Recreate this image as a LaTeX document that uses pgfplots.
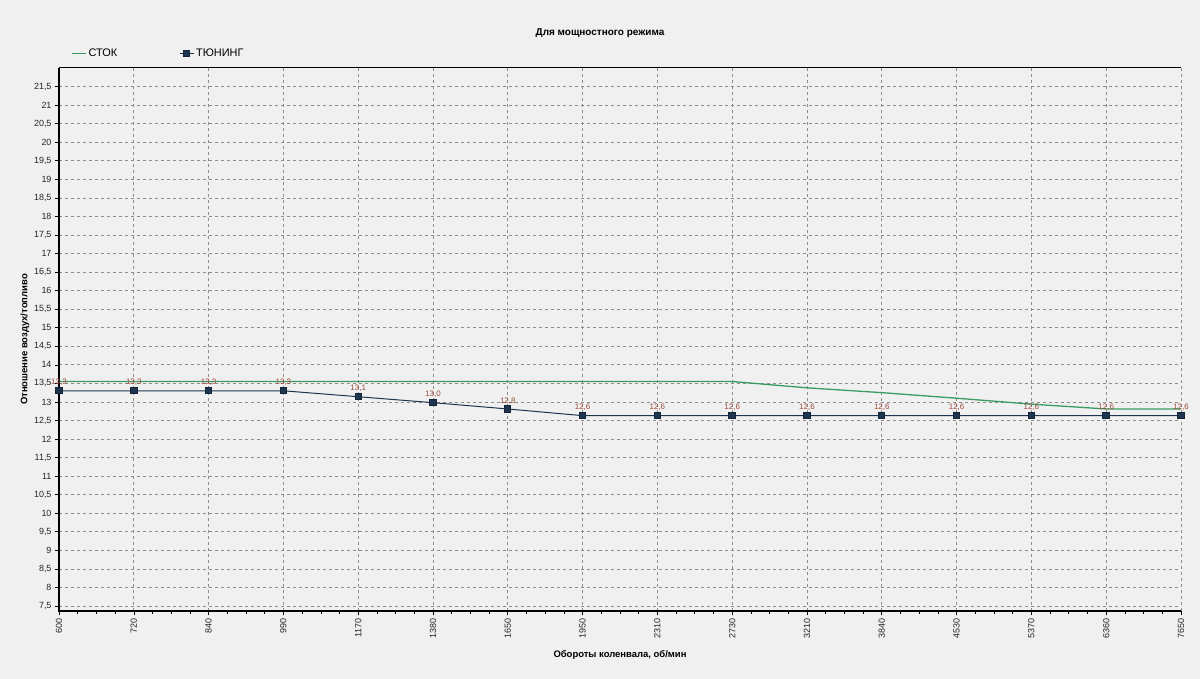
\documentclass[border=0pt]{standalone}
\usepackage{fontspec}
\setmainfont{Liberation Sans}
\usepackage{pgfplots}
\pgfplotsset{compat=1.18}
\definecolor{bg}{HTML}{F0F0F0}
\definecolor{stock}{HTML}{3A9A64}
\definecolor{tune}{HTML}{1E3550}
\definecolor{lbl}{HTML}{9A4A3A}
\definecolor{gridc}{HTML}{8C8C8C}
\begin{document}
\begin{tikzpicture}
\useasboundingbox[fill=bg] (0,0) rectangle (1200bp,679bp);
\begin{axis}[
  at={(59bp,68bp)}, anchor=south west,
  scale only axis, width=1122bp, height=543bp,
  xmin=0, xmax=15, ymin=7.365, ymax=22.0,
  xtick={0,...,15},
  xticklabels={600,720,840,990,1170,1380,1650,1950,2310,2730,3210,3840,4530,5370,6360,7650},
  minor x tick num=3,
  ytick={7.5,8,...,21.5},
  /pgf/number format/use comma,
  /pgf/number format/assume math mode=true,
  tick pos=left, tick align=outside,
  major tick length=4bp, minor tick length=3bp,
  tick style={black, line width=0.6bp},
  axis line style={draw=none},
  xmajorgrids, ymajorgrids,
  major grid style={gridc, dash pattern=on 3bp off 3bp, line width=0.7bp},
  tick label style={font=\fontsize{9}{10}\selectfont, text=black!85},
  xticklabel style={rotate=90, anchor=east},
  every axis y label/.style={at={(axis description cs:0,0.5)}, xshift=-34bp, rotate=90, anchor=center},
  every axis x label/.style={at={(axis description cs:0.5,0)}, anchor=center, yshift=-44bp},
  ylabel={\bfseries\fontsize{9.5}{11}\selectfont Отношение воздух/топливо},
  xlabel={\bfseries\fontsize{9.5}{11}\selectfont Обороты коленвала, об/мин},
  legend columns=2,
  legend style={at={(axis description cs:0,1)}, anchor=south west, xshift=12bp, yshift=8bp,
    draw=none, fill=none, font=\fontsize{11}{12}\selectfont, inner sep=0pt,
    nodes={inner sep=2bp},
    /tikz/every even column/.append style={column sep=60bp}},
  legend image code/.code={\draw[mark repeat=2,mark phase=2,#1] plot coordinates {(0bp,0bp) (7bp,0bp) (14bp,0bp)};},
  clip=false,
]
\addplot[stock, line width=1.3bp] coordinates {
(0,13.55) (1,13.55) (2,13.55) (3,13.55) (4,13.55) (5,13.55) (6,13.55) (7,13.55) (8,13.55) (9,13.55)
(10,13.38) (11,13.25) (12,13.1) (13,12.94) (14,12.81) (15,12.81)};
\addlegendentry{СТОК}
\addplot[tune, line width=1bp, mark=square*, mark size=3.2bp, mark options={fill=tune, draw=tune!70!black},
  nodes near coords,
  nodes near coords style={font=\fontsize{8}{9}\selectfont, text=lbl, anchor=south, yshift=1bp,
    /pgf/number format/.cd, fixed, fixed zerofill, precision=1, use comma}] coordinates {
(0,13.3) (1,13.3) (2,13.3) (3,13.3) (4,13.14) (5,12.98) (6,12.81) (7,12.63) (8,12.63) (9,12.63)
(10,12.63) (11,12.63) (12,12.63) (13,12.63) (14,12.63) (15,12.63)};
\addlegendentry{ТЮНИНГ}
\draw[black, line width=2bp] (rel axis cs:0,1) -- (rel axis cs:0,0) -- (rel axis cs:1,0);
\draw[black, line width=1bp] (rel axis cs:0,1) -- (rel axis cs:1,1);
\end{axis}
\node[font=\bfseries\fontsize{10}{12}\selectfont] at (600bp,646bp) {Для мощностного режима};
\end{tikzpicture}
\end{document}
